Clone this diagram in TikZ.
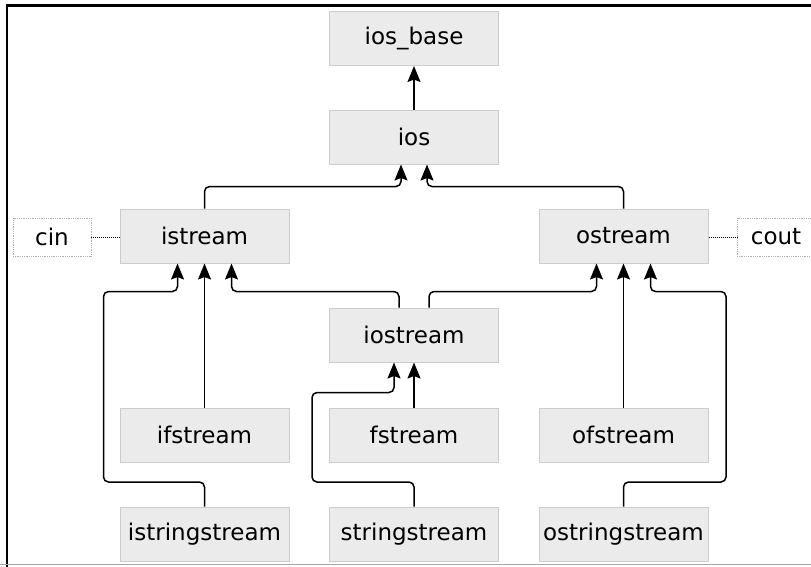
\documentclass[tikz,border=0pt]{standalone}
\usepackage{fontspec}
\setmainfont{DejaVu Sans}
\usetikzlibrary{arrows.meta,calc}
\definecolor{boxfill}{HTML}{EBEBEB}
\definecolor{boxline}{HTML}{CCCCCC}
\definecolor{dotline}{HTML}{B0B0B0}
\begin{document}
\begin{tikzpicture}[x=1pt,y=-1pt,
  cls/.style={draw=boxline,fill=boxfill,line width=1pt,minimum width=169pt,minimum height=54pt,inner sep=0pt,font=\fontsize{23}{27}\selectfont},
  obj/.style={draw=dotline,densely dotted,line width=0.8pt,minimum width=78pt,minimum height=38pt,inner sep=0pt,font=\fontsize{23}{27}\selectfont},
  conn/.style={line width=1.5pt,rounded corners=5pt,-{Stealth[length=16pt,width=13pt,inset=2.5pt]}},
  link/.style={line width=1pt,densely dotted}]
\useasboundingbox (0,0) rectangle (811,566);
% frame
\draw[line width=2.5pt] (7,567) -- (7,5.5) -- (812,5.5);
\draw[gray!70,line width=1pt] (0,564.5) -- (811,564.5);
% nodes
\node[cls] (iosbase) at (414,38.5) {ios\_base};
\node[cls] (ios) at (414,137) {ios};
\node[cls] (istream) at (204.5,236) {istream};
\node[cls] (ostream) at (623.5,236) {ostream};
\node[cls] (iostream) at (414,335) {iostream};
\node[cls] (ifstream) at (204.5,435) {ifstream};
\node[cls] (fstream) at (414,435) {fstream};
\node[cls] (ofstream) at (623.5,435) {ofstream};
\node[cls] (isstream) at (204.5,534) {istringstream};
\node[cls] (sstream) at (414,534) {stringstream};
\node[cls] (osstream) at (623.5,534) {ostringstream};
\node[obj] (cin) at (52,237) {cin};
\node[obj] (cout) at (776,237) {cout};
% dotted links
\draw[link] (cin.east) -- (istream.west |- cin.east);
\draw[link] (ostream.east |- cout.west) -- (cout.west);
% connectors
\draw[conn] (ios.north) -- (iosbase.south);
\draw[conn] (istream.north) |- ($(ios.south)+(-13,22)$) -- ($(ios.south)+(-13,0)$);
\draw[conn] (ostream.north) |- ($(ios.south)+(13,22)$) -- ($(ios.south)+(13,0)$);
\draw[conn] (ifstream.north) -- (istream.south);
\draw[conn] (isstream.north) |- (103.5,482) |- ($(istream.south)+(-27,28)$) -- ($(istream.south)+(-27,0)$);
\draw[conn] ($(iostream.north)+(-15,0)$) |- ($(istream.south)+(27,28)$) -- ($(istream.south)+(27,0)$);
\draw[conn] ($(iostream.north)+(15,0)$) |- ($(ostream.south)+(-27,28)$) -- ($(ostream.south)+(-27,0)$);
\draw[conn] (ofstream.north) -- (ostream.south);
\draw[conn] (osstream.north) |- (726,482) |- ($(ostream.south)+(27,28)$) -- ($(ostream.south)+(27,0)$);
\draw[conn] (fstream.north) -- (iostream.south);
\draw[conn] (sstream.north) |- (312,482) |- ($(iostream.south)+(-20,30)$) -- ($(iostream.south)+(-20,0)$);
\end{tikzpicture}
\end{document}
